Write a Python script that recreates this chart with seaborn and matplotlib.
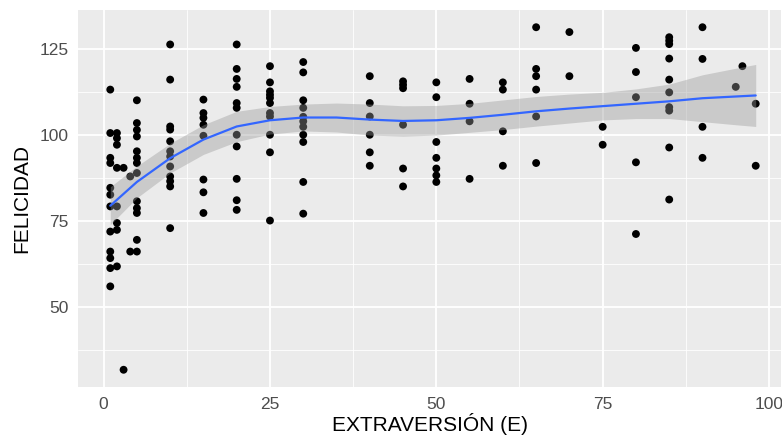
import numpy as np
import pandas as pd
import matplotlib
matplotlib.use("Agg")
import matplotlib.pyplot as plt
import seaborn as sns

# Data (x = extraversion score, y = happiness)
x_vals = (
    [1] * 12 + [2] * 8 + [3] * 2 + [4] * 2 + [5] * 13 + [10] * 12 + [15] * 8
    + [20] * 11 + [25] * 11 + [30] * 11 + [40] * 6 + [45] * 6 + [50] * 7
    + [55] * 4 + [60] * 4 + [65] * 6 + [70] * 2 + [75] * 2 + [80] * 5
    + [85] * 10 + [90] * 4 + [95] + [96] + [98] * 2
)
y_vals = [
    113.1, 100.5, 93.3, 91.8, 84.6, 82.6, 79.2, 71.9, 66.1, 64.2, 61.3, 56.0,   # 1
    100.5, 99.0, 97.1, 90.4, 79.2, 74.4, 72.4, 61.8,                            # 2
    90.4, 31.8,                                                                 # 3
    87.9, 66.1,                                                                 # 4
    110.0, 103.4, 101.4, 99.5, 95.2, 93.3, 91.8, 88.9, 80.7, 78.7, 77.3, 69.5, 66.1,  # 5
    126.2, 116.0, 102.4, 101.5, 98.1, 95.2, 93.7, 90.8, 87.9, 86.5, 85.0, 72.9,  # 10
    110.2, 106.3, 104.9, 102.9, 99.7, 87.0, 83.3, 77.3,                         # 15
    126.2, 119.1, 116.2, 113.9, 109.2, 107.8, 100.0, 96.6, 87.2, 81.0, 78.2,   # 20
    119.9, 115.2, 112.6, 111.6, 110.7, 109.2, 106.3, 105.3, 100.0, 94.9, 75.1, # 25
    121.1, 118.1, 110.0, 107.8, 105.2, 103.9, 102.3, 100.0, 97.9, 86.3, 77.1,  # 30
    117.0, 109.2, 105.3, 100.0, 94.9, 91.0,                                    # 40
    115.5, 114.5, 113.5, 102.9, 90.2, 85.0,                                    # 45
    115.2, 110.9, 97.9, 93.3, 90.2, 88.2, 86.3,                                # 50
    116.2, 109.0, 103.9, 87.2,                                                 # 55
    115.2, 113.1, 101.0, 91.0,                                                 # 60
    131.2, 119.1, 117.0, 113.1, 105.3, 91.8,                                   # 65
    129.8, 117.0,                                                              # 70
    102.3, 97.1,                                                               # 75
    125.2, 118.2, 110.9, 92.0, 71.2,                                           # 80
    128.3, 127.3, 126.3, 122.1, 116.0, 112.3, 108.0, 107.0, 96.3, 81.2,        # 85
    131.2, 122.0, 102.3, 93.3,                                                 # 90
    113.9,                                                                     # 95
    119.9,                                                                     # 96
    109.0, 91.0,                                                               # 98
]

# loess smooth
smooth_x = [1, 5, 10, 15, 20, 25, 30, 35, 40, 45, 50, 55, 60, 65, 70, 75, 80, 85, 90, 95, 98]
smooth_fit = [79.4, 86.3, 93.2, 98.6, 102.4, 104.2, 105.0, 105.0, 104.4, 104.0, 104.2,
              104.9, 105.8, 106.8, 107.6, 108.3, 109.0, 109.7, 110.6, 111.1, 111.4]
smooth_band = [5.5, 4.6, 4.3, 4.3, 4.4, 4.0, 3.9, 4.2, 4.5, 4.4, 4.3,
               4.2, 4.3, 4.3, 4.2, 4.0, 4.3, 5.0, 6.8, 8.2, 9.0]

x_ticks = [0, 25, 50, 75, 100]
y_ticks = [50, 75, 100, 125]

df = pd.DataFrame({"E": x_vals, "FELICIDAD": y_vals})
sm = pd.DataFrame({"x": smooth_x, "fit": smooth_fit, "band": smooth_band})

sns.set_style("darkgrid", rc={"axes.facecolor": "#EBEBEB", "grid.color": "white"})
plt.rcParams["font.family"] = ["Liberation Sans", "DejaVu Sans"]

fig = plt.figure(figsize=(7.82, 4.4), dpi=100)
ax = fig.add_axes([78 / 782, 1 - 387 / 440, (781 - 78) / 782, (387 - 10) / 440])

sns.scatterplot(data=df, x="E", y="FELICIDAD", ax=ax, color="black",
                s=32, edgecolor="none", zorder=2)
ax.fill_between(sm["x"], sm["fit"] - sm["band"], sm["fit"] + sm["band"],
                color="#999999", alpha=0.4, linewidth=0, zorder=3)
sns.lineplot(data=sm, x="x", y="fit", ax=ax, color="#3366FF", linewidth=1.6, zorder=4)

ax.set_xlim(-3.85, 101.8)
ax.set_ylim(26.8, 136.2)
ax.set_xticks(x_ticks)
ax.set_yticks(y_ticks)
ax.set_xticks([12.5, 37.5, 62.5, 87.5], minor=True)
ax.set_yticks([37.5, 62.5, 87.5, 112.5], minor=True)
ax.grid(which="major", color="white", linewidth=1.3)
ax.grid(which="minor", color="white", linewidth=0.6)
ax.set_axisbelow(True)
for s in ax.spines.values():
    s.set_visible(False)

ax.tick_params(which="major", length=4, width=1, color="#333333",
               labelsize=12.5, labelcolor="#4D4D4D", pad=3)
ax.tick_params(which="minor", length=0)
ax.set_xlabel("EXTRAVERSIÓN (E)", fontsize=15, color="black", labelpad=1)
ax.set_ylabel("FELICIDAD", fontsize=15, color="black", labelpad=6)

plt.savefig("out.png", dpi=100)
